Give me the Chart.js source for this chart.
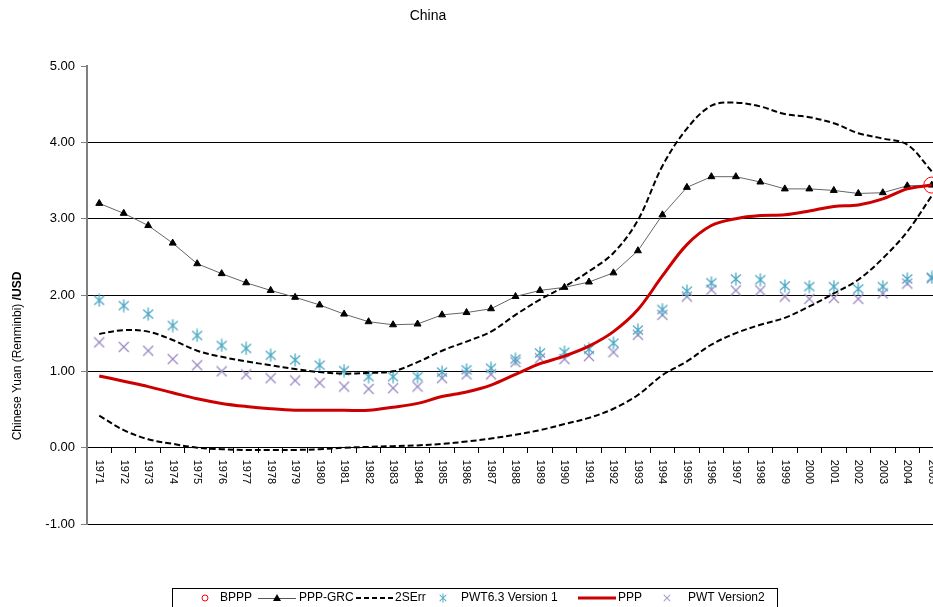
<!DOCTYPE html>
<html>
<head>
<meta charset="utf-8">
<script src="https://cdn.jsdelivr.net/npm/chart.js@4/dist/chart.umd.min.js"></script>
<style>
  html, body { margin: 0; padding: 0; background: #fff; overflow: hidden; }
  #wrap { width: 953px; height: 607px; }
</style>
</head>
<body>
<div id="wrap"><canvas id="c" width="953" height="607"></canvas></div>
<script>
// China: Chinese Yuan (Renminbi) per USD, 1971-2005
const years = ['1971','1972','1973','1974','1975','1976','1977','1978','1979','1980',
  '1981','1982','1983','1984','1985','1986','1987','1988','1989','1990',
  '1991','1992','1993','1994','1995','1996','1997','1998','1999','2000',
  '2001','2002','2003','2004','2005'];

const yTicks = [-1, 0, 1, 2, 3, 4, 5];

const bppp = [null,null,null,null,null,null,null,null,null,null,
  null,null,null,null,null,null,null,null,null,null,
  null,null,null,null,null,null,null,null,null,null,
  null,null,null,null,3.44];

const pppGrc = [3.20,3.07,2.91,2.68,2.41,2.28,2.16,2.06,1.97,1.87,
  1.75,1.65,1.61,1.62,1.74,1.77,1.82,1.98,2.06,2.10,
  2.17,2.29,2.58,3.05,3.41,3.55,3.55,3.48,3.39,3.39,
  3.37,3.33,3.34,3.43,3.44];

const ppp = [0.94,0.87,0.80,0.72,0.64,0.58,0.54,0.51,0.49,0.49,
  0.49,0.49,0.53,0.58,0.67,0.73,0.82,0.96,1.10,1.20,
  1.33,1.52,1.81,2.25,2.66,2.91,3.00,3.04,3.05,3.10,
  3.16,3.18,3.26,3.39,3.44];

const errUpper = [1.49,1.54,1.52,1.41,1.27,1.19,1.13,1.08,1.03,0.99,
  0.97,0.98,1.00,1.12,1.27,1.39,1.52,1.74,1.94,2.11,
  2.31,2.55,2.98,3.69,4.18,4.48,4.52,4.47,4.37,4.33,
  4.25,4.12,4.05,3.97,3.62];

const errLower = [0.42,0.23,0.11,0.05,0.00,-0.02,-0.03,-0.03,-0.03,-0.02,
  0.00,0.01,0.02,0.03,0.05,0.08,0.12,0.17,0.23,0.31,
  0.39,0.51,0.69,0.95,1.13,1.35,1.50,1.61,1.70,1.85,
  2.02,2.20,2.48,2.83,3.30];

const pwt63v1 = [1.93,1.86,1.75,1.60,1.47,1.34,1.30,1.21,1.15,1.08,
  1.01,0.93,0.93,0.93,0.99,1.02,1.04,1.16,1.24,1.25,
  1.29,1.37,1.54,1.81,2.05,2.16,2.21,2.20,2.12,2.11,
  2.11,2.08,2.11,2.21,2.23];

const pwtV2 = [1.38,1.32,1.27,1.16,1.08,1.00,0.96,0.91,0.88,0.85,
  0.80,0.77,0.78,0.80,0.91,0.96,0.96,1.12,1.17,1.16,
  1.20,1.25,1.48,1.74,1.98,2.07,2.06,2.06,1.98,1.95,
  1.96,1.95,2.02,2.15,2.22];

// Marker images: six-armed asterisk and a plain cross
function makeAsterisk(color) {
  const c = document.createElement('canvas');
  c.width = 12; c.height = 14;
  const g = c.getContext('2d');
  g.strokeStyle = color; g.lineWidth = 1.3;
  g.beginPath();
  g.moveTo(6, 0.5); g.lineTo(6, 13.5);
  g.moveTo(1, 2.5); g.lineTo(11, 11.5);
  g.moveTo(11, 2.5); g.lineTo(1, 11.5);
  g.stroke();
  return c;
}
function makeCross(color) {
  const c = document.createElement('canvas');
  c.width = 12; c.height = 12;
  const g = c.getContext('2d');
  g.strokeStyle = color; g.lineWidth = 1.3;
  g.beginPath();
  g.moveTo(1, 1); g.lineTo(11, 11);
  g.moveTo(11, 1); g.lineTo(1, 11);
  g.stroke();
  return c;
}
const tealStar = makeAsterisk('#4aa8c4');
const purpleCross = makeCross('#9a88c2');

const FONT = '"Liberation Sans", Arial, sans-serif';

// Category labels under the zero line, written top-to-bottom
const xLabelsPlugin = {
  id: 'xLabels',
  beforeDatasetsDraw(chart) {
    const ctx = chart.ctx, xs = chart.scales.x, ys = chart.scales.y;
    const y0 = ys.getPixelForValue(0) + 12;
    ctx.save();
    ctx.fillStyle = '#000';
    ctx.font = '11px ' + FONT;
    ctx.textAlign = 'left';
    ctx.textBaseline = 'middle';
    years.forEach((lab, i) => {
      ctx.save();
      ctx.translate(xs.getPixelForValue(i), y0);
      ctx.rotate(Math.PI / 2);
      ctx.fillText(lab, 0, 0);
      ctx.restore();
    });
    ctx.restore();
  }
};

// Title, vertical axis title and boxed legend
const decorPlugin = {
  id: 'decor',
  afterDraw(chart) {
    const ctx = chart.ctx;
    ctx.save();
    ctx.fillStyle = '#000';
    ctx.font = '14px ' + FONT;
    ctx.textAlign = 'center';
    ctx.textBaseline = 'middle';
    ctx.fillText('China', 428, 16);

    // axis title
    ctx.save();
    ctx.translate(18, 356);
    ctx.rotate(-Math.PI / 2);
    const p1 = 'Chinese Yuan (Renminbi) ', p2 = '/USD';
    ctx.font = '12px ' + FONT;
    const w1 = ctx.measureText(p1).width;
    ctx.font = 'bold 12px ' + FONT;
    const w2 = ctx.measureText(p2).width;
    let sx = -(w1 + w2) / 2;
    ctx.textAlign = 'left';
    ctx.font = '12px ' + FONT;
    ctx.fillText(p1, sx, 0);
    ctx.font = 'bold 12px ' + FONT;
    ctx.fillText(p2, sx + w1, 0);
    ctx.restore();

    // legend box
    ctx.strokeStyle = '#000';
    ctx.lineWidth = 1;
    ctx.strokeRect(172.5, 588.5, 605, 30);
    const ly = 598;
    ctx.font = '12px ' + FONT;
    ctx.textAlign = 'left';
    ctx.textBaseline = 'middle';
    // BPPP
    ctx.strokeStyle = '#ff0000';
    ctx.beginPath(); ctx.arc(205, ly, 3, 0, Math.PI * 2); ctx.stroke();
    ctx.fillText('BPPP', 220, ly);
    // PPP-GRC
    ctx.strokeStyle = '#555';
    ctx.beginPath(); ctx.moveTo(258, ly + 0.5); ctx.lineTo(296, ly + 0.5); ctx.stroke();
    ctx.fillStyle = '#000';
    ctx.beginPath(); ctx.moveTo(277, ly - 4); ctx.lineTo(281, ly + 3); ctx.lineTo(273, ly + 3); ctx.closePath(); ctx.fill();
    ctx.fillText('PPP-GRC', 299, ly);
    // 2SErr
    ctx.strokeStyle = '#000';
    ctx.lineWidth = 2;
    ctx.setLineDash([5, 3]);
    ctx.beginPath(); ctx.moveTo(356, ly); ctx.lineTo(393, ly); ctx.stroke();
    ctx.setLineDash([]);
    ctx.fillText('2SErr', 395, ly);
    // PWT6.3 Version 1
    ctx.drawImage(tealStar, 443 - 4, ly - 5, 8, 10);
    ctx.fillText('PWT6.3 Version 1', 461, ly);
    // PPP
    ctx.strokeStyle = '#cc0000';
    ctx.lineWidth = 3;
    ctx.beginPath(); ctx.moveTo(578, ly); ctx.lineTo(616, ly); ctx.stroke();
    ctx.fillText('PPP', 618, ly);
    // PWT Version2
    ctx.drawImage(purpleCross, 667 - 4, ly - 4, 8, 8);
    ctx.fillText('PWT Version2', 688, ly);
    ctx.restore();
  }
};

new Chart(document.getElementById('c'), {
  type: 'line',
  data: {
    labels: years,
    datasets: [
      { label: 'BPPP', data: bppp, showLine: false, pointStyle: 'circle', pointRadius: 8,
        pointBorderColor: '#ff0000', pointBackgroundColor: 'rgba(0,0,0,0)', pointBorderWidth: 1 },
      { label: 'PPP', data: ppp, borderColor: '#cc0000', borderWidth: 3, tension: 0.35,
        pointRadius: 0 },
      { label: 'PPP-GRC', data: pppGrc, borderColor: '#666', borderWidth: 1, tension: 0,
        pointStyle: 'triangle', pointRadius: 4, pointBackgroundColor: '#000', pointBorderColor: '#000',
        pointBorderWidth: 1 },
      { label: '2SErr', data: errUpper, borderColor: '#000', borderWidth: 2, borderDash: [6, 3],
        tension: 0.35, pointRadius: 0 },
      { label: '2SErr', data: errLower, borderColor: '#000', borderWidth: 2, borderDash: [6, 3],
        tension: 0.35, pointRadius: 0 },
      { label: 'PWT6.3 Version 1', data: pwt63v1, showLine: false, pointStyle: tealStar, pointRadius: 6 },
      { label: 'PWT Version2', data: pwtV2, showLine: false, pointStyle: purpleCross, pointRadius: 6 }
    ]
  },
  options: {
    responsive: false,
    animation: false,
    devicePixelRatio: 1,
    layout: { padding: { top: 66, bottom: 83, left: 0, right: 0 } },
    plugins: { legend: { display: false }, title: { display: false }, tooltip: { enabled: false } },
    scales: {
      x: {
        type: 'category',
        position: { y: 0 },
        offset: true,
        grid: { display: true, drawOnChartArea: false, drawTicks: true, tickLength: 5,
                offset: true, color: '#000', lineWidth: 1 },
        border: { display: true, color: '#000', width: 1 },
        ticks: { display: false }
      },
      y: {
        min: -1, max: 5,
        afterBuildTicks(scale) { scale.ticks = yTicks.map(v => ({ value: v })); },
        afterFit(scale) { scale.width = 87; },
        grid: {
          color: ctx => (ctx.tick && ctx.tick.value === 5) ? 'rgba(0,0,0,0)' : '#000',
          tickColor: '#808080', tickLength: 6, lineWidth: 1
        },
        border: { display: true, color: '#808080', width: 2 },
        ticks: {
          padding: 6,
          color: '#000',
          font: { family: FONT, size: 13 },
          callback: v => Number(v).toFixed(2)
        }
      }
    }
  },
  plugins: [xLabelsPlugin, decorPlugin]
});
</script>
</body>
</html>
